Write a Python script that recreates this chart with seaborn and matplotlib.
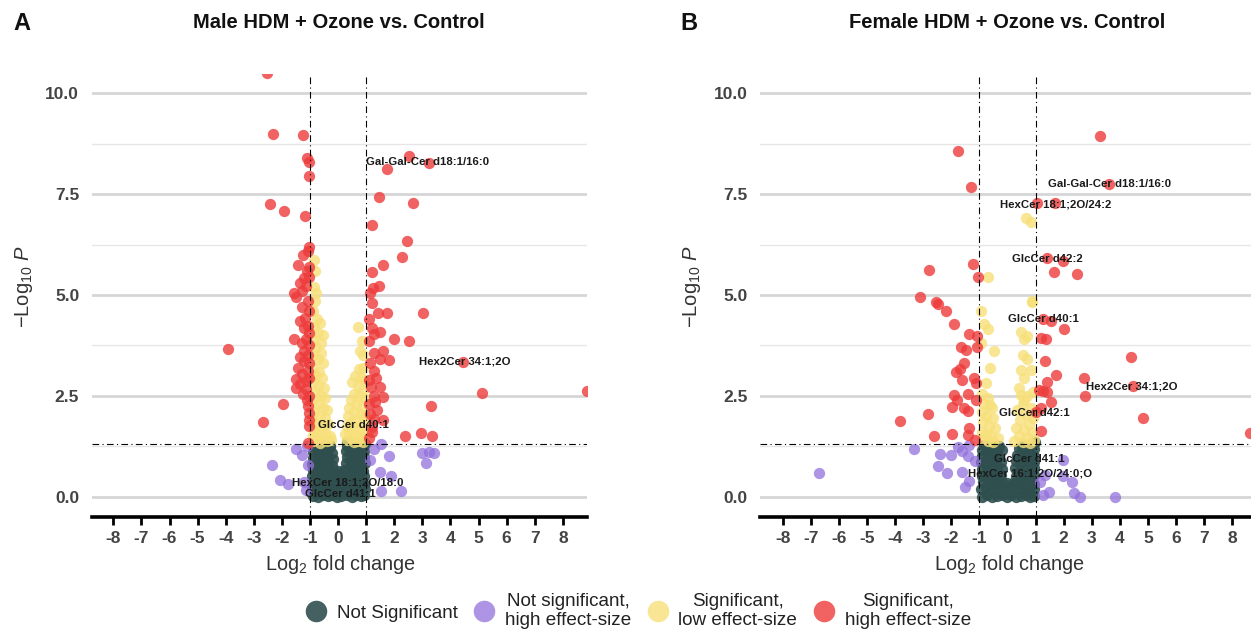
import matplotlib
matplotlib.use("Agg")
import matplotlib.pyplot as plt
import seaborn as sns
import pandas as pd
from matplotlib.lines import Line2D

# ---------------- data ----------------
categories = ["Not Significant", "Not significant,\nhigh effect-size",
              "Significant,\nlow effect-size", "Significant,\nhigh effect-size"]
x_ticks = list(range(-8, 9))
y_ticks = [0, 2.5, 5, 7.5, 10]
y_tick_labels = ["0.0", "2.5", "5.0", "7.5", "10.0"]
titles = ["Male HDM + Ozone vs. Control", "Female HDM + Ozone vs. Control"]
panel_letters = ["A", "B"]

# ---- Male panel ----
m_ns_x = [-0.88, -0.7, -0.52, -0.35, -0.2, -0.05, 0.12, 0.3, 0.48, 0.65, 0.82, 0.93,
          -0.92, -0.75, -0.58, -0.4, -0.22, -0.08, 0.1, 0.27, 0.45, 0.62, 0.8, 0.95,
          -0.9, -0.72, -0.55, -0.38, -0.2, 0.0, 0.15, 0.33, 0.5, 0.68, 0.85, 0.94,
          -0.93, -0.77, -0.6, -0.43, -0.27, -0.1, 0.07, 0.24, 0.41, 0.58, 0.76, 0.92,
          -0.89, -0.7, -0.53, -0.36, -0.18, -0.02, 0.2, 0.37, 0.55, 0.72, 0.9,
          -0.92, -0.75, -0.57, -0.4, -0.22, 0.28, 0.45, 0.63, 0.8, 0.95,
          -0.88, -0.7, -0.52, -0.35, -0.17, 0.3, 0.48, 0.66, 0.84, 0.93,
          -0.91, -0.73, -0.55, -0.38, -0.22, 0.27, 0.43, 0.6, 0.78, 0.94,
          -0.86, -0.66, -0.47, -0.28, 0.32, 0.52, 0.72, 0.9,
          -0.8, -0.55, -0.3, 0.3, 0.6, 0.85, 0.97]
m_ns_y = [0.02, 0.0, 0.04, 0.01, 0.03, 0.0, 0.02, 0.04, 0.0, 0.03, 0.01, 0.05,
          0.18, 0.2, 0.16, 0.21, 0.19, 0.17, 0.22, 0.18, 0.2, 0.16, 0.21, 0.19,
          0.35, 0.33, 0.37, 0.34, 0.36, 0.38, 0.33, 0.36, 0.34, 0.37, 0.35, 0.32,
          0.5, 0.52, 0.49, 0.53, 0.51, 0.5, 0.54, 0.49, 0.52, 0.5, 0.53, 0.51,
          0.66, 0.64, 0.68, 0.65, 0.67, 0.63, 0.66, 0.69, 0.65, 0.67, 0.64,
          0.81, 0.79, 0.83, 0.8, 0.78, 0.82, 0.8, 0.84, 0.79, 0.82,
          0.96, 0.94, 0.98, 0.95, 0.93, 0.97, 0.95, 0.99, 0.94, 0.97,
          1.1, 1.12, 1.09, 1.13, 1.08, 1.14, 1.11, 1.1, 1.12, 1.13,
          1.22, 1.24, 1.21, 1.23, 1.26, 1.23, 1.25, 1.24,
          1.3, 1.29, 1.28, 1.36, 1.3, 1.31, 1.3]

m_nse_x = [-1.49, -1.28, -2.34, -1.08, -2.06, -1.8, -1.22, -1.15, -1.1,
           1.28, 1.54, 1.83, 3.0, 3.42, 3.22, 3.12, 1.48, 1.89, 2.24, 1.52, 1.12]
m_nse_y = [1.19, 1.04, 0.79, 0.77, 0.42, 0.3, 0.35, 0.16, 1.25,
           1.19, 1.31, 1.01, 1.09, 1.07, 1.1, 0.82, 0.6, 0.5, 0.13, 0.13, 0.9]

m_sl_x = [-0.85, -0.82, -0.86, -0.78, -0.83, -0.9, -0.75, -0.65, -0.85, -0.7, -0.55, -0.88,
          -0.62, -0.78, -0.6, -0.85, -0.7, -0.55, -0.9, -0.68, -0.8, -0.58, -0.88, -0.7,
          -0.5, -0.82, -0.62, -0.45, -0.9, -0.72, -0.55, -0.4, -0.85, -0.65, -0.48, -0.92,
          -0.75, -0.35, -0.55, -0.85, -0.68, -0.42, -0.9, -0.3, -0.75, -0.55, -0.88, -0.4,
          -0.65, -0.25,
          0.7, 0.84, 0.79, 0.9, 0.73, 0.88, 0.6, 0.8, 0.95, 0.5, 0.7, 0.88, 0.55, 0.75,
          0.95, 0.45, 0.65, 0.85, 0.4, 0.55, 0.78, 0.95, 0.35, 0.65, 0.45, 0.88, 0.3,
          0.55, 0.75, 0.38, 0.95, 0.25, 0.62, 0.85, 0.45, 0.3, 0.72, 0.55, 0.9]
m_sl_y = [5.87, 5.6, 5.2, 5.05, 4.85, 4.6, 4.4, 4.3, 4.2, 4.05, 4.0, 3.9,
          3.8, 3.7, 3.55, 3.5, 3.4, 3.3, 3.2, 3.1, 3.0, 2.95, 2.85, 2.75,
          2.7, 2.6, 2.5, 2.45, 2.4, 2.3, 2.2, 2.15, 2.1, 2.0, 1.95, 1.9,
          1.8, 1.8, 1.72, 1.65, 1.6, 1.55, 1.5, 1.5, 1.45, 1.42, 1.37, 1.38,
          1.33, 1.4,
          4.21, 3.85, 3.6, 3.5, 3.17, 3.2, 3.0, 2.95, 2.9, 2.85, 2.75, 2.65, 2.55, 2.5,
          2.45, 2.4, 2.3, 2.25, 2.2, 2.1, 2.05, 2.0, 2.0, 1.9, 1.85, 1.8, 1.75,
          1.7, 1.65, 1.6, 1.6, 1.55, 1.5, 1.48, 1.45, 1.4, 1.38, 1.35, 1.35]

m_sh_x = [-2.52, -2.31, -1.26, -1.12, -1.02, -1.03, -2.41, -1.92, -1.19, -1.08, -1.02,
          -1.43, -1.12, -1.22, -1.29, -1.57, -1.5, -1.15, -1.08, -1.17, -1.08, -1.22,
          -1.56, -1.15, -3.93, -1.22, -1.08, -1.42, -1.08, -1.49, -1.15, -1.49, -1.15,
          -1.97, -1.08, -1.05, -2.66, -1.04, -1.08,
          -1.3, -1.02, -1.35, -1.02, -1.3, -1.02, -1.35, -1.2, -1.02, -1.3, -1.02, -1.35,
          -1.25, -1.02, -1.12, -1.02, -1.02, -1.05, -1.35, -1.25,
          2.52, 3.25, 1.75, 1.47, 2.66, 1.19, 2.45, 2.27, 1.61, 1.22, 1.47, 1.26, 1.15,
          1.21, 1.42, 1.73, 3.04, 1.21, 1.48, 1.28, 1.99, 2.52, 1.28, 1.59, 1.48, 1.83,
          4.45, 1.28, 1.35, 1.18, 1.48, 5.14, 8.85, 1.28, 1.59, 3.32, 1.39, 1.28, 1.59,
          1.21, 2.94, 2.38, 3.35, 1.21,
          1.1, 1.1, 1.12, 1.1, 1.1, 1.15, 1.3, 1.1]
m_sh_y = [10.5, 9.0, 8.96, 8.39, 8.3, 7.95, 7.25, 7.08, 6.96, 6.09, 6.2,
          5.74, 5.59, 5.42, 5.1, 5.05, 4.95, 5.22, 4.85, 4.44, 4.23, 4.19,
          3.91, 3.91, 3.67, 3.62, 3.5, 3.2, 3.12, 2.92, 2.87, 2.7, 2.66,
          2.3, 2.25, 2.08, 1.86, 1.91, 1.34,
          4.7, 4.6, 4.35, 4.05, 3.8, 3.75, 3.45, 3.35, 3.3, 3.05, 2.95, 2.8,
          2.55, 2.5, 2.4, 1.75, 5.45, 5.7, 5.3, 6.0,
          8.44, 8.27, 8.12, 7.43, 7.28, 6.73, 6.34, 5.94, 5.74, 5.57, 5.22, 5.17, 5.05,
          4.81, 4.56, 4.55, 4.55, 4.19, 4.07, 4.03, 3.91, 3.85, 3.57, 3.6, 3.42, 3.39,
          3.34, 3.12, 2.95, 2.71, 2.71, 2.57, 2.62, 2.5, 2.46, 2.25, 2.15, 1.93, 1.91,
          1.72, 1.58, 1.49, 1.49, 1.6,
          4.4, 3.85, 3.3, 2.9, 2.3, 2.05, 2.35, 1.45]

m_lab_text = ["Gal-Gal-Cer d18:1/16:0", "Hex2Cer 34:1;2O", "GlcCer d40:1",
              "HexCer 18:1;2O/18:0", "GlcCer d41:1"]
m_lab_x = [3.2, 4.5, 0.54, 0.35, 0.07]
m_lab_y = [8.3, 3.36, 1.78, 0.36, 0.06]

# ---- Female panel ----
f_ns_x = [-0.9, -0.72, -0.55, -0.38, -0.2, -0.03, 0.14, 0.31, 0.48, 0.65, 0.82, 0.95,
          -0.93, -0.77, -0.6, -0.42, -0.25, -0.08, 0.1, 0.27, 0.44, 0.61, 0.78, 0.93,
          -0.88, -0.7, -0.52, -0.35, -0.18, 0.0, 0.18, 0.35, 0.52, 0.7, 0.87, 0.96,
          -0.92, -0.75, -0.57, -0.4, -0.22, 0.3, 0.47, 0.64, 0.8, 0.94,
          -0.9, -0.72, -0.55, -0.38, -0.2, 0.28, 0.45, 0.62, 0.79, 0.95,
          -0.93, -0.76, -0.58, -0.4, -0.24, 0.3, 0.48, 0.66, 0.83, 0.94,
          -0.89, -0.7, -0.52, -0.34, 0.35, 0.52, 0.7, 0.87, 0.96,
          -0.92, -0.74, -0.55, -0.38, -0.2, 0.42, 0.6, 0.78, 0.93,
          -0.85, -0.65, -0.45, -0.3, 0.5, 0.7, 0.88, 0.97]
f_ns_y = [0.0, 0.03, -0.02, 0.02, 0.05, 0.0, 0.03, -0.01, 0.02, 0.04, 0.0, 0.02,
          0.18, 0.2, 0.16, 0.21, 0.19, 0.17, 0.22, 0.18, 0.2, 0.16, 0.21, 0.19,
          0.35, 0.33, 0.37, 0.34, 0.36, 0.34, 0.33, 0.36, 0.34, 0.37, 0.35, 0.32,
          0.52, 0.5, 0.54, 0.51, 0.53, 0.52, 0.5, 0.54, 0.51, 0.53,
          0.68, 0.66, 0.7, 0.67, 0.69, 0.7, 0.67, 0.69, 0.66, 0.7,
          0.85, 0.83, 0.87, 0.84, 0.86, 0.88, 0.85, 0.87, 0.84, 0.86,
          1.0, 0.98, 1.02, 0.99, 1.03, 1.0, 1.02, 0.99, 1.01,
          1.15, 1.13, 1.17, 1.14, 1.16, 1.2, 1.18, 1.16, 1.19,
          1.28, 1.27, 1.29, 1.26, 1.25, 1.29, 1.31, 1.35]

f_nse_x = [-3.31, -2.39, -2.01, -1.76, -1.62, -1.41, -1.37, -2.47, -2.15, -1.62,
           -1.37, -1.52, -6.71, -1.15,
           1.97, 1.33, 1.97, 2.3, 1.48, 1.28, 2.37, 2.6, 3.83, 1.15]
f_nse_y = [1.17, 1.05, 1.02, 1.24, 1.12, 1.0, 1.27, 0.76, 0.58, 0.62,
           0.39, 0.24, 0.58, 0.87,
           0.91, 0.54, 0.52, 0.37, 0.12, 0.05, 0.08, -0.02, 0.0, 0.37]

f_sl_x = [0.67, 0.84, -0.68, 0.87, 0.87, -0.94, -0.84, -0.7, 0.48, 0.69, 0.6, -0.94,
          -0.47, 0.55, 0.69, -0.63, 0.48, 0.85, -0.78, 0.6, 0.4, 0.48, -0.63, 0.6,
          -0.9, -0.7, -0.85, -0.55, -0.92, -0.75, -0.5, -0.88, -0.65, -0.45, -0.92,
          -0.78, -0.58, -0.9, -0.7, -0.5, -0.35,
          0.9, 0.7, 0.55, 0.85, 0.35, 0.65, 0.92, 0.45, 0.75, 0.3, 0.58, 0.88, 0.4,
          0.7, 0.95, 0.25, 0.55, 0.82]
f_sl_y = [6.9, 6.82, 5.45, 4.86, 4.82, 4.59, 4.27, 4.15, 4.09, 3.97, 3.9, 3.8,
          3.61, 3.52, 3.4, 3.18, 3.15, 3.15, 2.81, 2.93, 2.7, 2.52, 2.28, 2.4,
          2.55, 2.45, 2.3, 2.2, 2.1, 2.0, 1.95, 1.85, 1.75, 1.7, 1.6,
          1.55, 1.5, 1.42, 1.38, 1.35, 1.45,
          2.6, 2.5, 2.3, 2.2, 2.15, 2.05, 1.95, 1.9, 1.8, 1.7, 1.65, 1.6, 1.5,
          1.45, 1.4, 1.38, 1.35, 1.33]

f_sh_x = [3.31, -1.76, -1.31, 3.63, 1.05, 1.69, -2.81, -1.23, -1.06, 1.41, 1.97, 1.66,
          2.46, -3.1, -2.54, -2.47, -2.18, -1.9, -1.38, -1.09, -1.65, -1.48, -1.09,
          -1.55, -1.69, -1.83, -1.62, -1.19, -1.12, -1.9, -1.41, -1.8, -1.98, -1.55,
          -1.41, -1.12, -2.84, -3.84, -1.37, -1.41, -1.98, -2.63, -1.15,
          1.26, 1.55, 2.0, 1.19, 1.36, 4.39, 1.33, 1.73, 2.71, 1.4, 1.12, 1.26, 4.46,
          2.76, 1.55, 1.19, 4.82, 1.19, 8.62, 1.02, 1.4]
f_sh_y = [8.93, 8.57, 7.67, 7.74, 7.27, 7.27, 5.62, 5.76, 5.45, 5.91, 5.83, 5.56,
          5.51, 4.96, 4.83, 4.77, 4.59, 4.27, 4.02, 3.97, 3.72, 3.64, 3.72,
          3.31, 3.17, 3.08, 2.89, 2.93, 2.81, 2.52, 2.54, 2.4, 2.21, 2.19,
          2.11, 2.4, 2.05, 1.88, 1.69, 1.53, 1.55, 1.49, 1.4,
          4.41, 4.36, 4.15, 3.94, 3.9, 3.46, 3.37, 3.02, 2.93, 2.83, 2.65, 2.62, 2.74,
          2.5, 2.34, 2.19, 1.96, 1.63, 1.57, 2.1, 2.6]

f_lab_text = ["Gal-Gal-Cer d18:1/16:0", "HexCer 18:1;2O/24:2", "GlcCer d42:2",
              "GlcCer d40:1", "Hex2Cer 34:1;2O", "GlcCer d42:1", "GlcCer d41:1",
              "HexCer 16:1;2O/24:0;O"]
f_lab_x = [3.63, 1.72, 1.41, 1.28, 4.43, 0.97, 0.79, 0.8]
f_lab_y = [7.74, 7.25, 5.89, 4.41, 2.74, 2.06, 0.93, 0.58]

# ---------------- style ----------------
palette = {categories[0]: "#2F4F4F", categories[1]: "#9270DB",
           categories[2]: "#F7E07A", categories[3]: "#EE3B3B"}
alphas = {categories[0]: 0.9, categories[1]: 0.75, categories[2]: 0.8, categories[3]: 0.8}

sns.set_theme(style="white")
plt.rcParams['font.family'] = ['Liberation Sans', 'DejaVu Sans']
plt.rcParams['mathtext.fontset'] = 'custom'
plt.rcParams['mathtext.rm'] = 'Liberation Sans'
plt.rcParams['mathtext.it'] = 'Liberation Sans:italic'

W, H = 1251, 633
fig = plt.figure(figsize=(W / 100, H / 100), dpi=100)


def make_df(groups):
    frames = []
    for cat, xs, ys in groups:
        frames.append(pd.DataFrame({"log2fc": xs, "nlp": ys, "group": cat}))
    return pd.concat(frames, ignore_index=True)


panels = [
    dict(df=make_df([(categories[0], m_ns_x, m_ns_y), (categories[1], m_nse_x, m_nse_y),
                     (categories[2], m_sl_x, m_sl_y), (categories[3], m_sh_x, m_sh_y)]),
         lab=(m_lab_text, m_lab_x, m_lab_y),
         rect=[91.7 / W, 116.3 / H, (587 - 91.7) / W, (559 - 116.3) / H],
         xlim=(-8.77, 8.86), title_x=339, letter_x=22, ylab_x=24, xlab_x=341),
    dict(df=make_df([(categories[0], f_ns_x, f_ns_y), (categories[1], f_nse_x, f_nse_y),
                     (categories[2], f_sl_x, f_sl_y), (categories[3], f_sh_x, f_sh_y)]),
         lab=(f_lab_text, f_lab_x, f_lab_y),
         rect=[760 / W, 116.3 / H, (W - 760) / W, (559 - 116.3) / H],
         xlim=(-8.81, 8.67), title_x=1007, letter_x=689, ylab_x=692, xlab_x=1010),
]

for i, p in enumerate(panels):
    ax = fig.add_axes(p["rect"])
    df = p["df"]
    for cat in categories:
        sub = df[df["group"] == cat]
        sns.scatterplot(data=sub, x="log2fc", y="nlp", color=palette[cat], s=66,
                        alpha=alphas[cat], linewidth=0, legend=False, ax=ax, zorder=3)
    ax.set_xlim(*p["xlim"])
    ax.set_ylim(-0.5, 10.48)
    ax.set_xticks(x_ticks)
    ax.set_xticklabels([str(t) for t in x_ticks])
    ax.set_yticks(y_ticks)
    ax.set_yticklabels(y_tick_labels)
    ax.set_yticks([1.25, 3.75, 6.25, 8.75], minor=True)
    ax.grid(False)
    ax.grid(axis='y', which='major', color='#D6D6D6', lw=2.0, zorder=0)
    ax.grid(axis='y', which='minor', color='#E6E6E6', lw=1.0, zorder=0)
    for s in ["top", "right", "left"]:
        ax.spines[s].set_visible(False)
    ax.spines["bottom"].set_color("black")
    ax.spines["bottom"].set_linewidth(2.6)
    ax.tick_params(axis='x', which='major', bottom=True, length=6, width=2, color='black',
                   labelsize=12.5, labelcolor='#444444', pad=4, direction='out')
    ax.tick_params(axis='y', which='both', left=False, length=0, labelsize=12.5,
                   labelcolor='#444444', pad=9)
    for lbl in ax.get_xticklabels() + ax.get_yticklabels():
        lbl.set_fontweight('bold')
    ax.set_xlabel("")
    ax.set_ylabel("")
    dash = (0, (6, 3, 1, 3))
    ax.axvline(-1, color='black', lw=0.8, ls=dash, zorder=4)
    ax.axvline(1, color='black', lw=0.8, ls=dash, zorder=4)
    ax.axhline(1.3, color='black', lw=0.8, ls=dash, zorder=4)
    texts, lx, ly = p["lab"]
    for t, x, y in zip(texts, lx, ly):
        ax.text(x, y, t, fontsize=8.2, fontweight='bold', ha='center', va='center',
                color='#1A1A1A', zorder=6)
    fig.text(p["title_x"] / W, 1 - 23 / H, titles[i], fontsize=14.5, fontweight='bold',
             ha='center', va='center', color='#111111')
    fig.text(p["letter_x"] / W, 1 - 24 / H, panel_letters[i], fontsize=17,
             fontweight='bold', ha='center', va='center', color='#111111')
    fig.text(p["ylab_x"] / W, 1 - 287 / H, r"$-$Log$_{10}$ $\it{P}$", fontsize=14.5,
             rotation=90, ha='center', va='center', color='#333333')
    fig.text(p["xlab_x"] / W, 1 - 565 / H, r"Log$_2$ fold change", fontsize=14.3,
             ha='center', va='center', color='#333333')

handles = [Line2D([0], [0], marker='o', ls='', markersize=15.5, markerfacecolor=palette[c],
                  markeredgewidth=0, alpha=alphas[c]) for c in categories]
leg = fig.legend(handles, categories, loc='center', bbox_to_anchor=(634 / W, 1 - 611 / H),
                 ncol=4, frameon=False, fontsize=13.6, handletextpad=0.1,
                 columnspacing=0.4, labelspacing=0.2)
for t in leg.get_texts():
    t.set_multialignment('center')
    t.set_linespacing(1.1)
    t.set_color('#222222')

fig.savefig("out.png", dpi=100)
